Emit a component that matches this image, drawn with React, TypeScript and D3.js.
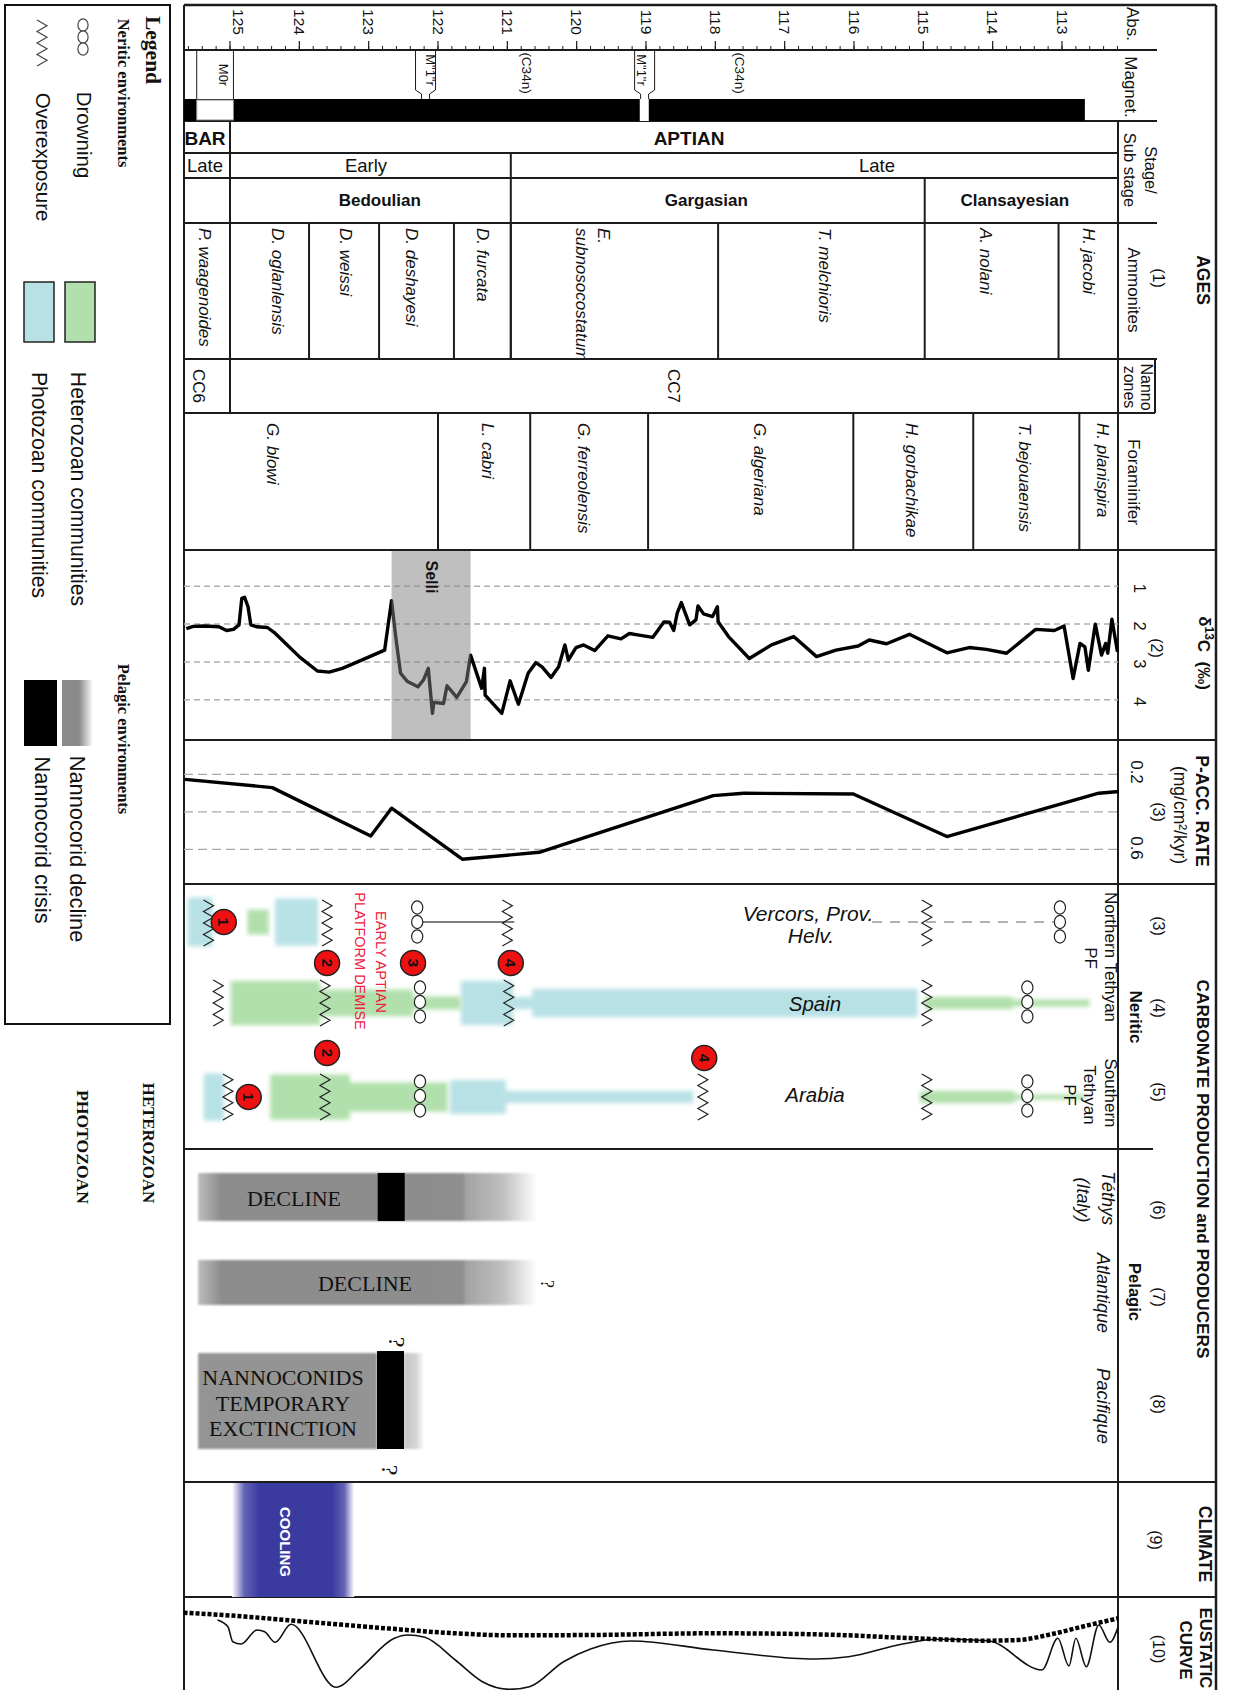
import * as d3 from "d3";

// Age scale ticks (Ma)
const ageTicks = [125, 124, 123, 122, 121, 120, 119, 118, 117, 116, 115, 114, 113];
const minorTicks = d3.range(0, 68).map(i => 125.6 - i * 0.2);

// Zone names and age boundaries
const substages = [["Bedoulian", 122.84], ["Gargasian", 118.13], ["Clansayesian", 113.68]] as const;
const ammoniteBounds = [125.0, 123.86, 122.85, 121.77, 120.95, 117.96, 114.98, 113.05];
const ammonites = [
  ["P. waagenoides", 125.37], ["D. oglanlensis", 124.32], ["D. weissi", 123.33],
  ["D. deshayesi", 122.38], ["D. furcata", 121.36], ["T. melchioris", 116.42],
  ["A. nolani", 114.11], ["H. jacobi", 112.62],
] as const;
const forams = [
  ["G. blowi", 124.39], ["L. cabri", 121.29], ["G. ferreolensis", 119.9], ["G. algeriana", 117.37],
  ["H. gorbachikae", 115.17], ["T. bejouaensis", 113.54], ["H. planispira", 112.42],
] as const;
const foramBounds = [122.0, 120.67, 118.97, 116.01, 114.28, 112.75];

// d13C curve
const carbonAge = [125.63, 125.53, 125.37, 125.16, 125.05, 124.95, 124.87, 124.83, 124.79, 124.74, 124.7, 124.62, 124.46, 124.35, 123.99, 123.74, 123.57, 123.38, 123.16, 122.77, 122.67, 122.61, 122.54, 122.44, 122.29, 122.21, 122.14, 122.08, 122.06, 121.92, 121.87, 121.73, 121.59, 121.53, 121.37, 121.33, 121.32, 121.08, 120.96, 120.84, 120.7, 120.59, 120.5, 120.37, 120.26, 120.17, 120.12, 120.01, 119.9, 119.74, 119.55, 119.36, 119.24, 119.1, 118.9, 118.74, 118.66, 118.6, 118.55, 118.49, 118.37, 118.28, 118.25, 118.17, 118.04, 117.97, 117.96, 117.81, 117.51, 117.19, 116.87, 116.54, 116.26, 115.94, 115.78, 115.53, 115.2, 114.66, 114.34, 114.09, 113.8, 113.38, 113.11, 112.97, 112.84, 112.74, 112.67, 112.62, 112.52, 112.43, 112.37, 112.34, 112.28, 112.2];
const carbonValue = [2.12, 2.06, 2.05, 2.07, 2.17, 2.14, 2.02, 1.32, 1.29, 1.54, 2.02, 2.07, 2.09, 2.24, 2.88, 3.24, 3.27, 3.17, 3.0, 2.69, 1.38, 2.33, 3.3, 3.52, 3.66, 3.48, 3.17, 4.36, 4.07, 4.1, 3.63, 3.94, 3.52, 2.82, 3.7, 3.17, 3.88, 4.36, 3.5, 4.12, 3.3, 3.02, 3.13, 3.41, 3.13, 2.55, 2.95, 2.62, 2.55, 2.7, 2.31, 2.39, 2.25, 2.29, 2.35, 1.94, 1.95, 2.17, 1.71, 1.43, 2.02, 1.89, 1.52, 1.73, 1.8, 1.54, 1.94, 2.33, 2.91, 2.55, 2.33, 2.86, 2.69, 2.58, 2.42, 2.52, 2.27, 2.76, 2.62, 2.67, 2.77, 2.14, 2.17, 2.05, 3.44, 2.51, 2.6, 3.22, 2.0, 2.82, 2.51, 2.77, 1.87, 2.73];

// P accumulation rate
const accAge = [125.65, 124.39, 122.97, 122.67, 121.65, 120.54, 118.03, 117.59, 116.01, 114.66, 112.47, 112.18];
const accValue = [0.227, 0.271, 0.529, 0.381, 0.653, 0.616, 0.314, 0.301, 0.305, 0.532, 0.301, 0.292];

// Neritic communities: [from age, to age, relative abundance]
type Band = [number, number, number];
const vercorsHetero: Band[] = [[124.75, 124.44, 0.53]];
const vercorsPhoto: Band[] = [[125.61, 125.25, 1.04], [124.35, 123.73, 1]];
const spainHetero: Band[] = [[124.99, 123.7, 0.94], [123.7, 122.36, 0.57], [122.36, 121.67, 0.28], [114.98, 113.71, 0.26], [113.71, 112.6, 0.15]];
const spainPhoto: Band[] = [[121.67, 120.92, 0.94], [120.92, 120.64, 0.26], [120.64, 115.08, 0.6]];
const arabiaHetero: Band[] = [[124.42, 123.27, 0.96], [123.27, 121.86, 0.62], [115.05, 113.68, 0.26], [113.68, 112.67, 0.11]];
const arabiaPhoto: Band[] = [[125.38, 125.09, 1], [121.83, 121.02, 0.72], [121.02, 118.32, 0.26]];

// Events
const vercorsExposure = [125.31, 123.6, 121.0, 114.95];
const spainExposure = [125.17, 123.63, 120.98, 114.95];
const arabiaExposure = [125.03, 123.63, 118.18, 114.95];
const vercorsDrowning = [122.3, 113.03];
const spainDrowning = [122.26, 113.5];
const arabiaDrowning = [122.26, 113.5];
const vercorsEvents = [[125.09, "1"]] as const;
const spainEvents = [[123.6, "2"], [122.36, "3"], [120.95, "4"]] as const;
const arabiaEvents = [[124.73, "1"], [123.6, "2"], [118.16, "4"]] as const;

// Eustatic curves
const longTermAge = [125.67, 124.89, 123.91, 122.93, 121.75, 120.97, 119.8, 118.03, 116.57, 115.1, 114.12, 113.63, 113.14, 112.65, 112.19];
const longTermLevel = [77.3, 74, 68.3, 62.7, 56.7, 54.7, 55, 56.7, 55.7, 51.7, 49.3, 50, 56, 64.3, 71.7];
const shortTermAge = [125.18, 125.03, 124.96, 124.84, 124.61, 124.5, 124.35, 124.12, 123.47, 123.12, 122.63, 122.44, 122.19, 121.75, 121.36, 120.97, 120.68, 120.19, 119.8, 119.21, 118.03, 116.57, 116.08, 115.3, 114.81, 114.07, 113.29, 113.06, 112.9, 112.8, 112.65, 112.47, 112.31, 112.19];
const shortTermLevel = [70, 63.3, 48.3, 46, 60, 58.3, 47.7, 65.7, 2.7, 21.7, 51.7, 55, 52.7, 30, 8.3, 0.7, 3.3, 28.3, 41, 49, 40, 31, 33.3, 46, 50.7, 49.3, 20, 51.7, 24, 51.7, 23.3, 65, 47.7, 63.3];

const x = d3.scaleLinear().domain([125, 113]).range([230, 1062]);
const yCarbon = d3.scaleLinear().domain([1, 4]).range([586.3, 699.7]);
const yAcc = d3.scaleLinear().domain([0.2, 0.6]).range([774.3, 849.3]);
const yEustatic = d3.scaleLinear().domain([0, 210]).range([1690, 1480]);
const bandHeight = d3.scaleLinear().domain([0, 1]).range([0, 47]);

const SANS = "'Liberation Sans', Arial, sans-serif";
const SERIF = "'Liberation Serif', 'Times New Roman', serif";
const GREEN = "#b1e0ac";
const BLUE = "#b8e1e6";
const LINE = "#1c1c1c";

const toLine = (ages: number[], vals: number[], yScale: d3.ScaleLinear<number, number>, curve: d3.CurveFactory = d3.curveLinear) =>
  d3.line<number>()
    .x(a => x(a))
    .y((_, i) => yScale(vals[i]))
    .curve(curve)(ages) ?? "";

// Text turned a quarter clockwise, like the whole figure
function RotText({ px, py, size = 16, anchor = "middle", bold, italic, family = SANS, fill = "#111", children }: any) {
  return (
    <text
      transform={`translate(${px},${py}) rotate(90)`}
      textAnchor={anchor}
      dominantBaseline="central"
      fontFamily={family}
      fontSize={size}
      fontWeight={bold ? "bold" : "normal"}
      fontStyle={italic ? "italic" : "normal"}
      fill={fill}
    >
      {children}
    </text>
  );
}

function HText({ px, py, size = 16, bold, italic, family = SANS, children }: any) {
  return (
    <text x={px} y={py} textAnchor="middle" dominantBaseline="central" fontFamily={family} fontSize={size}
      fontWeight={bold ? "bold" : "normal"} fontStyle={italic ? "italic" : "normal"} fill="#111">
      {children}
    </text>
  );
}

function HL({ y, x1 = 184, x2 = 1118, w = 2 }: any) {
  return <line x1={x1} x2={x2} y1={y} y2={y} stroke={LINE} strokeWidth={w} />;
}
function VL({ px, y1, y2, w = 2 }: any) {
  return <line x1={px} x2={px} y1={y1} y2={y2} stroke={LINE} strokeWidth={w} />;
}

// Overexposure mark
function Zigzag({ px, cy, h = 46, stroke = "#222" }: any) {
  const pts = d3.range(9).map(i => [px + (i % 2 ? 5 : -5), cy - h / 2 + (i * h) / 8] as [number, number]);
  return <path d={d3.line()(pts) ?? ""} fill="none" stroke={stroke} strokeWidth={1.2} />;
}

// Drowning mark
function Rings({ px, cy, r = 6, gap = 14.5, stroke = "#222" }: any) {
  return (
    <g>
      {[-gap, 0, gap].map(d => (
        <ellipse key={d} cx={px} cy={cy + d} rx={r - 0.4} ry={r + 0.6} fill="#fff" stroke={stroke} strokeWidth={1.2} />
      ))}
    </g>
  );
}

function Bands({ data, cy, fill }: { data: Band[]; cy: number; fill: string }) {
  return (
    <g filter="url(#soft)">
      {data.map(([a, b, v]) => (
        <rect key={a} x={x(a)} width={x(b) - x(a)} y={cy - bandHeight(v) / 2} height={bandHeight(v)} fill={fill} />
      ))}
    </g>
  );
}

function Event({ px, cy, label }: any) {
  return (
    <g>
      <circle cx={px} cy={cy} r={12.5} fill="#ee1111" stroke="#222" strokeWidth={1.5} />
      <RotText px={px} py={cy} size={15} bold fill="#111">{label}</RotText>
    </g>
  );
}

export default function App() {
  const rowCenters = { vercors: 922, spain: 1003, arabia: 1097 };
  return (
    <svg width={1234} height={1690} style={{ position: "absolute", left: 0, top: 0, background: "#fff" }}>
      <defs>
        <filter id="soft" x="-10%" y="-10%" width="120%" height="120%">
          <feGaussianBlur stdDeviation={2} />
        </filter>
        <filter id="softGrey" x="-5%" y="-10%" width="110%" height="120%">
          <feGaussianBlur stdDeviation={1.3} />
        </filter>
        <clipPath id="ammoniteRow">
          <rect x={184} y={224} width={934} height={134} />
        </clipPath>
        <linearGradient id="decline">
          <stop offset="0" stopColor="#bdbdbd" />
          <stop offset="0.07" stopColor="#8c8c8c" />
          <stop offset="0.78" stopColor="#8e8e8e" />
          <stop offset="0.79" stopColor="#a2a2a2" />
          <stop offset="0.9" stopColor="#c0c0c0" />
          <stop offset="1" stopColor="#ffffff" />
        </linearGradient>
        <linearGradient id="fadeOut">
          <stop offset="0" stopColor="#c6c6c6" />
          <stop offset="0.6" stopColor="#d4d4d4" />
          <stop offset="1" stopColor="#ffffff" />
        </linearGradient>
        <linearGradient id="cooling">
          <stop offset="0" stopColor="#ffffff" />
          <stop offset="0.1" stopColor="#6464b6" />
          <stop offset="0.22" stopColor="#3b3b9f" />
          <stop offset="0.82" stopColor="#3b3b9f" />
          <stop offset="0.92" stopColor="#6464b6" />
          <stop offset="1" stopColor="#ffffff" />
        </linearGradient>
        <linearGradient id="legendDecline">
          <stop offset="0" stopColor="#8a8a8a" />
          <stop offset="0.55" stopColor="#8a8a8a" />
          <stop offset="1" stopColor="#ffffff" />
        </linearGradient>
      </defs>

      {/* Frame */}
      <HL y={5} x2={1216} w={2.5} />
      <VL px={184} y1={5} y2={1690} />
      <VL px={1216} y1={5} y2={1690} w={2.5} />
      <VL px={1118} y1={121} y2={1690} />
      <HL y={50} x2={1157} />
      <HL y={121} x2={1157} />
      <HL y={153} />
      <HL y={178} />
      <HL y={223} x2={1157} />
      <HL y={359} x2={1157} />
      <HL y={413} x2={1155} />
      <VL px={1155} y1={359} y2={413} />
      <HL y={550} x2={1216} />
      <HL y={740} x2={1216} />
      <HL y={884} x2={1216} />
      <HL y={1149} x2={1153} />
      <HL y={1482} x2={1216} />
      <HL y={1597} x2={1216} />

      {/* Absolute ages */}
      {minorTicks.map(a => <line key={a} x1={x(a)} x2={x(a)} y1={50} y2={46} stroke={LINE} strokeWidth={1} />)}
      {ageTicks.map(a => (
        <g key={a}>
          <line x1={x(a)} x2={x(a)} y1={50} y2={41} stroke={LINE} strokeWidth={1.2} />
          <RotText px={x(a) + (a === 125 ? 8 : 0)} py={22} size={15.5}>{a}</RotText>
        </g>
      ))}
      <RotText px={1132} py={24} size={17}>Abs.</RotText>

      {/* Magnetostratigraphy */}
      <rect x={184} width={x(112.67) - 184} y={99} height={22} fill="#000" />
      <rect x={x(125.48)} width={x(124.95) - x(125.48)} y={100} height={20} fill="#fff" stroke="#888" />
      <rect x={x(119.09)} width={x(118.96) - x(119.09)} y={99} height={22} fill="#fff" />
      <VL px={x(125.48)} y1={50} y2={99} w={1} />
      <VL px={x(124.95)} y1={50} y2={99} w={1} />
      <RotText px={223} py={75} size={13}>M0r</RotText>
      {[[122.18, 430], [119.02, 641]].map(([a, tx]) => {
        const c = x(a);
        return (
          <g key={a}>
            <path
              d={`M${c - 10},50 V90 L${c - 4},94 V99 M${c + 10},50 V90 L${c + 4},94 V99`}
              fill="none" stroke={LINE} strokeWidth={1} />
            <RotText px={tx} py={70} size={13}>M"1"r</RotText>
          </g>
        );
      })}
      <RotText px={526} py={73} size={13.5}>(C34n)</RotText>
      <RotText px={739} py={73} size={13.5}>(C34n)</RotText>
      <RotText px={1130} py={87} size={17}>Magnet.</RotText>

      {/* Stages */}
      <VL px={x(125)} y1={121} y2={413} />
      <VL px={x(120.95)} y1={153} y2={359} />
      <VL px={x(114.98)} y1={178} y2={223} />
      <HText px={205} py={138} size={19} bold>BAR</HText>
      <HText px={689} py={138} size={19} bold>APTIAN</HText>
      <HText px={205} py={165} size={18.5}>Late</HText>
      <HText px={366} py={165} size={18.5}>Early</HText>
      <HText px={877} py={165} size={18.5}>Late</HText>
      {substages.map(([name, a]) => <HText key={name} px={x(a)} py={200} size={17} bold>{name}</HText>)}
      <RotText px={1151} py={170} size={16.5}>Stage/</RotText>
      <RotText px={1130} py={170} size={16.5}>Sub stage</RotText>

      {/* Biozones */}
      {ammoniteBounds.map(a => <VL key={a} px={x(a)} y1={223} y2={359} />)}
      {ammonites.map(([name, a]) => (
        <RotText key={name} px={x(a)} py={228} anchor="start" size={17} italic>{name}</RotText>
      ))}
      <g clipPath="url(#ammoniteRow)">
        <RotText px={603} py={228} anchor="start" size={17} italic>E.</RotText>
        <RotText px={581} py={228} anchor="start" size={17} italic>subnosocostatum</RotText>
      </g>
      <RotText px={198} py={386} size={17}>CC6</RotText>
      <RotText px={673} py={386} size={17}>CC7</RotText>
      {foramBounds.map(a => <VL key={a} px={x(a)} y1={413} y2={550} />)}
      {forams.map(([name, a]) => (
        <RotText key={name} px={x(a)} py={423} anchor="start" size={17} italic>{name}</RotText>
      ))}
      <RotText px={1203} py={280} size={17.5} bold>AGES</RotText>
      <RotText px={1158} py={278} size={16}>(1)</RotText>
      <RotText px={1133} py={290} size={17}>Ammonites</RotText>
      <RotText px={1146} py={387} size={16}>Nanno</RotText>
      <RotText px={1129} py={387} size={16}>zones</RotText>
      <RotText px={1133} py={482} size={17}>Foraminifer</RotText>

      {/* d13C */}
      {yCarbon.ticks(4).map(v => (
        <g key={v}>
          <line x1={184} x2={1118} y1={yCarbon(v)} y2={yCarbon(v)} stroke="#b0b0b0" strokeWidth={1.5} strokeDasharray="6 4" />
          <RotText px={1140} py={yCarbon(v) + 2} size={16.5}>{v}</RotText>
        </g>
      ))}
      <path d={toLine(carbonAge, carbonValue, yCarbon)} fill="none" stroke="#000" strokeWidth={3.4} strokeLinejoin="round" />
      <rect x={x(122.67)} width={x(121.53) - x(122.67)} y={551} height={188} fill="#808080" opacity={0.5} />
      <RotText px={431} py={577} size={16} bold>Selli</RotText>
      <RotText px={1156} py={648} size={16}>(2)</RotText>
      <RotText px={1204} py={653} size={17} bold>
        δ<tspan dy={-5} fontSize={12}>13</tspan><tspan dy={5}>C{"\u00a0\u00a0"}(‰)</tspan>
      </RotText>

      {/* Accumulation rate */}
      {[0.2, 0.4, 0.6].map(v => (
        <line key={v} x1={184} x2={1118} y1={yAcc(v)} y2={yAcc(v)} stroke="#a8a8a8" strokeWidth={1.2} strokeDasharray="9 5" />
      ))}
      <path d={toLine(accAge, accValue, yAcc)} fill="none" stroke="#000" strokeWidth={3.4} strokeLinejoin="round" />
      <RotText px={1136} py={772} size={17}>0.2</RotText>
      <RotText px={1136} py={848} size={17}>0.6</RotText>
      <RotText px={1158} py={812} size={16}>(3)</RotText>
      <RotText px={1180} py={815} size={17.5}>(mg/cm²/kyr)</RotText>
      <RotText px={1202} py={811} size={17.5} bold>P-ACC. RATE</RotText>

      {/* Neritic */}
      <Bands data={vercorsPhoto} cy={rowCenters.vercors} fill={BLUE} />
      <Bands data={vercorsHetero} cy={rowCenters.vercors} fill={GREEN} />
      <Bands data={spainPhoto} cy={rowCenters.spain} fill={BLUE} />
      <Bands data={spainHetero} cy={rowCenters.spain} fill={GREEN} />
      <Bands data={arabiaPhoto} cy={rowCenters.arabia} fill={BLUE} />
      <Bands data={arabiaHetero} cy={rowCenters.arabia} fill={GREEN} />
      <line x1={x(122.3)} x2={x(120.9)} y1={922} y2={922} stroke="#555" strokeWidth={1.5} />
      <line x1={x(115.74)} x2={x(113.03)} y1={922} y2={922} stroke="#999" strokeWidth={1.3} strokeDasharray="10 8" />
      {vercorsExposure.map(a => <Zigzag key={a} px={x(a)} cy={923} />)}
      {spainExposure.map(a => <Zigzag key={a} px={x(a)} cy={1003} />)}
      {arabiaExposure.map(a => <Zigzag key={a} px={x(a)} cy={1097} />)}
      {vercorsDrowning.map(a => <Rings key={a} px={x(a)} cy={922} />)}
      {spainDrowning.map(a => <Rings key={a} px={x(a)} cy={1002} />)}
      {arabiaDrowning.map(a => <Rings key={a} px={x(a)} cy={1096} />)}
      {vercorsEvents.map(([a, l]) => <Event key={l} px={x(a)} cy={922} label={l} />)}
      {spainEvents.map(([a, l]) => <Event key={l} px={x(a)} cy={963} label={l} />)}
      {arabiaEvents.map(([a, l]) => <Event key={l} px={x(a)} cy={l === "1" ? 1097 : l === "2" ? 1053 : 1058} label={l} />)}
      <RotText px={381} py={962} size={14.5} fill="#f0203c">EARLY APTIAN</RotText>
      <RotText px={360} py={961} size={14.5} fill="#f0203c">PLATFORM DEMISE</RotText>
      <HText px={808} py={913} size={21} italic>Vercors, Prov.</HText>
      <HText px={811} py={935} size={21} italic>Helv.</HText>
      <HText px={815} py={1003} size={20.5} italic>Spain</HText>
      <HText px={815} py={1094} size={20.5} italic>Arabia</HText>
      <RotText px={1110} py={957} size={17}>Northern Tethyan</RotText>
      <RotText px={1090} py={958} size={17}>PF</RotText>
      <RotText px={1110} py={1093} size={17}>Southern</RotText>
      <RotText px={1089} py={1095} size={17}>Tethyan</RotText>
      <RotText px={1069} py={1095} size={17}>PF</RotText>
      <RotText px={1135} py={1017} size={17} bold>Neritic</RotText>
      <RotText px={1158} py={926} size={16}>(3)</RotText>
      <RotText px={1158} py={1008} size={16}>(4)</RotText>
      <RotText px={1158} py={1092} size={16}>(5)</RotText>
      <RotText px={1203} py={1169} size={17.2} bold>CARBONATE PRODUCTION and PRODUCERS</RotText>

      {/* Pelagic */}
      <g filter="url(#softGrey)">
        <rect x={x(125.46)} width={x(120.57) - x(125.46)} y={1173} height={48} fill="url(#decline)" />
        <rect x={x(125.46)} width={x(120.57) - x(125.46)} y={1260} height={45} fill="url(#decline)" />
        <rect x={x(125.46)} width={x(122.88) - x(125.46)} y={1353} height={96} fill="#949494" />
        <rect x={x(122.49)} width={x(122.2) - x(122.49)} y={1353} height={96} fill="url(#fadeOut)" />
      </g>
      <rect x={x(122.87)} width={x(122.48) - x(122.87)} y={1173} height={48} fill="#000" />
      <HText px={294} py={1198} size={22} family={SERIF}>DECLINE</HText>
      <HText px={365} py={1283} size={22} family={SERIF}>DECLINE</HText>
      <RotText px={547} py={1284} size={18} family={SERIF}>?</RotText>
      <rect x={x(122.88)} width={x(122.49) - x(122.88)} y={1351} height={98} fill="#000" />
      <HText px={283} py={1377} size={22} family={SERIF}>NANNOCONIDS</HText>
      <HText px={283} py={1403} size={22} family={SERIF}>TEMPORARY</HText>
      <HText px={283} py={1428} size={22} family={SERIF}>EXCTINCTION</HText>
      <RotText px={397} py={1342} size={24} family={SERIF}>?</RotText>
      <RotText px={390} py={1470} size={24} family={SERIF}>?</RotText>
      <RotText px={1108} py={1198} size={18} italic>Téthys</RotText>
      <RotText px={1083} py={1200} size={18} italic>(Italy)</RotText>
      <RotText px={1103} py={1293} size={18} italic>Atlantique</RotText>
      <RotText px={1103} py={1406} size={18.5} italic>Pacifique</RotText>
      <RotText px={1135} py={1292} size={16.5} bold>Pelagic</RotText>
      <RotText px={1158} py={1210} size={16}>(6)</RotText>
      <RotText px={1158} py={1297} size={16}>(7)</RotText>
      <RotText px={1158} py={1404} size={16}>(8)</RotText>

      {/* Climate */}
      <rect x={x(124.97)} width={x(123.21) - x(124.97)} y={1483} height={114} fill="url(#cooling)" />
      <RotText px={285} py={1542} size={15} bold fill="#fff">COOLING</RotText>
      <RotText px={1205} py={1544} size={17.5} bold>CLIMATE</RotText>
      <RotText px={1155} py={1540} size={16}>(9)</RotText>

      {/* Eustatic */}
      <path d={toLine(shortTermAge, shortTermLevel, yEustatic, d3.curveMonotoneX)} fill="none" stroke="#111" strokeWidth={1.6} />
      <path d={toLine(longTermAge, longTermLevel, yEustatic, d3.curveMonotoneX)} fill="none" stroke="#000" strokeWidth={4.5} strokeDasharray="4 2" />
      <RotText px={1205} py={1648} size={16.6} bold>EUSTATIC</RotText>
      <RotText px={1185} py={1650} size={17} bold>CURVE</RotText>
      <RotText px={1158} py={1649} size={16}>(10)</RotText>

      {/* Legend */}
      <rect x={5} y={5} width={165} height={1019} fill="#fff" stroke="#111" strokeWidth={2} />
      <RotText px={153} py={50} size={21.5} bold family={SERIF}>Legend</RotText>
      <RotText px={123} py={93} size={16.5} bold family={SERIF}>Neritic environments</RotText>
      <RotText px={123} py={739} size={16.5} bold family={SERIF}>Pelagic environments</RotText>
      <Rings px={83} cy={37} r={5.5} gap={12} stroke="#444" />
      <Zigzag px={42} cy={43} h={46} stroke="#444" />
      <RotText px={84} py={135} size={20.5}>Drowning</RotText>
      <RotText px={43} py={157} size={20.5}>Overexposure</RotText>
      <rect x={65} y={282} width={30} height={60} fill={GREEN} stroke="#222" strokeWidth={1.5} />
      <rect x={24} y={282} width={30} height={60} fill={BLUE} stroke="#222" strokeWidth={1.5} />
      <RotText px={78} py={489} size={21.2}>Heterozoan communities</RotText>
      <RotText px={39} py={485} size={21.2}>Photozoan communities</RotText>
      <rect x={62} y={680} width={31} height={66} fill="url(#legendDecline)" />
      <rect x={24} y={680} width={33} height={66} fill="#000" />
      <RotText px={77} py={849} size={21.8}>Nannocorid decline</RotText>
      <RotText px={42} py={840} size={21.8}>Nannocorid crisis</RotText>
      <RotText px={148} py={1143} size={16.8} bold family={SERIF}>HETEROZOAN</RotText>
      <RotText px={83} py={1147} size={17.6} bold family={SERIF}>PHOTOZOAN</RotText>
    </svg>
  );
}
